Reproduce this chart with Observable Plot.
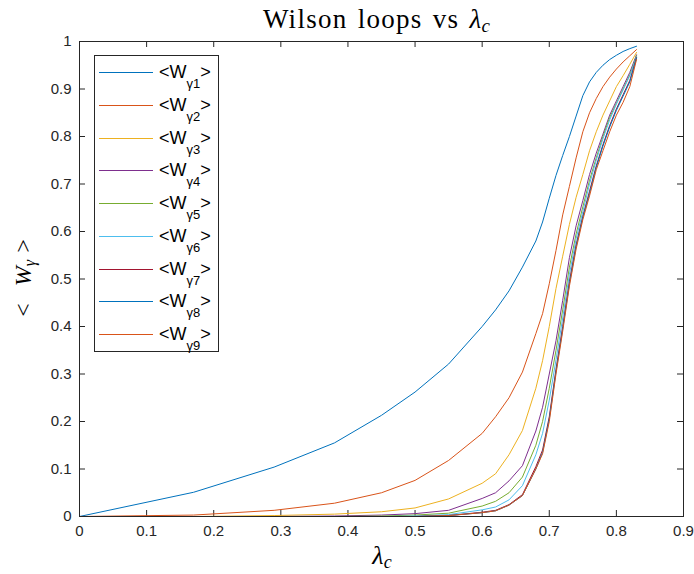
<!DOCTYPE html>
<html><head><meta charset="utf-8">
<script src="https://cdn.jsdelivr.net/npm/d3@7"></script>
<script src="https://cdn.jsdelivr.net/npm/@observablehq/plot@0.6"></script>
<style>
body{margin:0;background:#fff;}
#wrap{position:relative;width:694px;height:574px;background:#fff;}
#overlay{position:absolute;left:0;top:0;}
</style></head><body><div id="wrap"></div>
<script>
const lambda = [0, 0.17, 0.29, 0.38, 0.45, 0.5, 0.55, 0.6, 0.62, 0.64, 0.66, 0.68, 0.69, 0.70, 0.71, 0.72, 0.73, 0.74, 0.75, 0.76, 0.77, 0.78, 0.79, 0.80, 0.81, 0.82, 0.83];
const w1 = [0, 0.051, 0.104, 0.155, 0.213, 0.262, 0.321, 0.40, 0.435, 0.475, 0.525, 0.58, 0.62, 0.67, 0.718, 0.76, 0.80, 0.843, 0.886, 0.915, 0.935, 0.95, 0.962, 0.971, 0.979, 0.985, 0.99];
const w2 = [0, 0.003, 0.013, 0.028, 0.05, 0.076, 0.118, 0.175, 0.21, 0.25, 0.304, 0.385, 0.427, 0.49, 0.56, 0.635, 0.695, 0.755, 0.81, 0.85, 0.88, 0.905, 0.925, 0.942, 0.957, 0.97, 0.983];
const w3 = [0, 0, 0.002, 0.005, 0.01, 0.018, 0.037, 0.07, 0.09, 0.13, 0.181, 0.27, 0.328, 0.40, 0.48, 0.548, 0.615, 0.672, 0.72, 0.77, 0.81, 0.845, 0.875, 0.905, 0.928, 0.952, 0.977];
const w4 = [0, 0, 0, 0.001, 0.003, 0.006, 0.013, 0.038, 0.05, 0.075, 0.107, 0.18, 0.23, 0.30, 0.37, 0.455, 0.545, 0.612, 0.665, 0.72, 0.765, 0.805, 0.845, 0.875, 0.905, 0.935, 0.972];
const w5 = [0, 0, 0, 0, 0.001, 0.003, 0.007, 0.022, 0.032, 0.05, 0.083, 0.15, 0.20, 0.27, 0.35, 0.435, 0.525, 0.595, 0.652, 0.708, 0.755, 0.80, 0.84, 0.87, 0.90, 0.93, 0.97];
const w6 = [0, 0, 0, 0, 0, 0.001, 0.004, 0.014, 0.02, 0.035, 0.065, 0.13, 0.175, 0.245, 0.33, 0.418, 0.51, 0.585, 0.642, 0.70, 0.75, 0.795, 0.835, 0.868, 0.898, 0.928, 0.968];
const w7 = [0, 0, 0, 0, 0, 0, 0.002, 0.009, 0.013, 0.025, 0.046, 0.105, 0.14, 0.21, 0.31, 0.40, 0.495, 0.572, 0.632, 0.685, 0.738, 0.783, 0.823, 0.858, 0.888, 0.918, 0.966];
const w8 = [0, 0, 0, 0, 0, 0, 0.002, 0.008, 0.012, 0.024, 0.044, 0.10, 0.135, 0.205, 0.305, 0.395, 0.49, 0.568, 0.63, 0.68, 0.735, 0.78, 0.82, 0.855, 0.885, 0.915, 0.965];
const w9 = [0, 0, 0, 0, 0, 0, 0.002, 0.008, 0.012, 0.024, 0.044, 0.10, 0.132, 0.20, 0.30, 0.39, 0.485, 0.563, 0.625, 0.675, 0.73, 0.77, 0.81, 0.845, 0.872, 0.905, 0.962];
const seriesValues = [w1, w2, w3, w4, w5, w6, w7, w8, w9];
const seriesSubs = ["γ1", "γ2", "γ3", "γ4", "γ5", "γ6", "γ7", "γ8", "γ9"];
const colors = ["#0072BD", "#D95319", "#EDB120", "#7E2F8E", "#77AC30", "#4DBEEE", "#A2142F", "#0072BD", "#D95319"];
const xTicks = [0, 0.1, 0.2, 0.3, 0.4, 0.5, 0.6, 0.7, 0.8, 0.9];
const yTicks = [0, 0.1, 0.2, 0.3, 0.4, 0.5, 0.6, 0.7, 0.8, 0.9, 1];
const titleText = "Wilson loops vs ";

const W = 694, H = 574, mL = 79, mR = 11, mT = 41, mB = 58;
const tickLen = 6;
const tkY = tickLen / (H - mT - mB);
const tkX = 0.9 * tickLen / (W - mL - mR);
const axisColor = "#262626";
const sans = '"Liberation Sans", Arial, sans-serif';
const serif = '"Liberation Serif", "Times New Roman", serif';

const lineMarks = seriesValues.map((vals, i) =>
  Plot.line(vals.map((v, j) => ({lambda: lambda[j], w: v})), {x: "lambda", y: "w", stroke: colors[i], strokeWidth: 1})
);

const chart = Plot.plot({
  width: W, height: H,
  marginLeft: mL, marginRight: mR, marginTop: mT, marginBottom: mB,
  x: {domain: [0, 0.9]},
  y: {domain: [0, 1]},
  style: {fontFamily: sans, fontSize: "15px", color: axisColor, background: "transparent"},
  marks: [
    Plot.axisX(xTicks, {tickSize: 0, tickPadding: 9, label: null, tickFormat: d => String(d), fontSize: 15, fill: axisColor}),
    Plot.axisY(yTicks, {tickSize: 0, tickPadding: 8, label: null, tickFormat: d => String(d), fontSize: 15, fill: axisColor}),
    Plot.ruleX(xTicks, {x: d => d, y1: 0, y2: tkY, stroke: axisColor, strokeWidth: 1}),
    Plot.ruleX(xTicks, {x: d => d, y1: 1 - tkY, y2: 1, stroke: axisColor, strokeWidth: 1}),
    Plot.ruleY(yTicks, {y: d => d, x1: 0, x2: tkX, stroke: axisColor, strokeWidth: 1}),
    Plot.ruleY(yTicks, {y: d => d, x1: 0.9 - tkX, x2: 0.9, stroke: axisColor, strokeWidth: 1}),
    ...lineMarks,
    Plot.frame({stroke: axisColor, strokeWidth: 1})
  ]
});
chart.style.position = "absolute";
chart.style.left = "0";
chart.style.top = "0";
const wrap = document.getElementById("wrap");
wrap.appendChild(chart);

const ov = d3.select(wrap).append("svg").attr("id", "overlay").attr("width", W).attr("height", H);

// Title
const tt = ov.append("text").attr("x", 377).attr("y", 28).attr("text-anchor", "middle")
  .attr("font-family", serif).attr("font-size", 27).attr("fill", "#000")
  .attr("letter-spacing", 1.3).attr("word-spacing", 2);
tt.append("tspan").text(titleText);
tt.append("tspan").attr("font-style", "italic").text("λ");
tt.append("tspan").attr("font-style", "italic").attr("font-size", 19).attr("dy", 4).attr("dx", -1).text("c");

// x label
const xl = ov.append("text").attr("x", 382).attr("y", 564).attr("text-anchor", "middle")
  .attr("font-family", serif).attr("font-size", 26).attr("fill", "#000");
xl.append("tspan").attr("font-style", "italic").text("λ");
xl.append("tspan").attr("font-style", "italic").attr("font-size", 18).attr("dy", 4).text("c");

// y label
const yl = ov.append("text").attr("transform", "translate(31,278) rotate(-90)").attr("text-anchor", "middle")
  .attr("font-family", serif).attr("font-size", 24).attr("fill", "#000");
yl.append("tspan").text("<");
yl.append("tspan").attr("dx", 17).attr("font-style", "italic").text("W");
yl.append("tspan").attr("font-style", "italic").attr("font-size", 16).attr("dy", 4).text("γ");
yl.append("tspan").attr("dy", -4).attr("dx", 7).text(">");

// Legend
const lx = 94, ly = 55, lw = 124, lh = 296, step = 32.7, first = 17.3;
ov.append("rect").attr("x", lx + 0.5).attr("y", ly + 0.5).attr("width", lw).attr("height", lh)
  .attr("fill", "#fff").attr("stroke", axisColor).attr("stroke-width", 1);
seriesSubs.forEach((s, i) => {
  const cy = Math.round(ly + first + i * step) + 0.5;
  ov.append("line").attr("x1", lx + 5).attr("x2", lx + 59).attr("y1", cy).attr("y2", cy)
    .attr("stroke", colors[i]).attr("stroke-width", 1);
  const t = ov.append("text").attr("x", lx + 65).attr("y", cy + 5.5)
    .attr("font-family", sans).attr("font-size", 18).attr("fill", "#000");
  t.append("tspan").text("<W");
  t.append("tspan").attr("dy", 10).attr("font-size", 13).text(s);
  t.append("tspan").attr("dy", -10).text(">");
});
</script></body></html>
